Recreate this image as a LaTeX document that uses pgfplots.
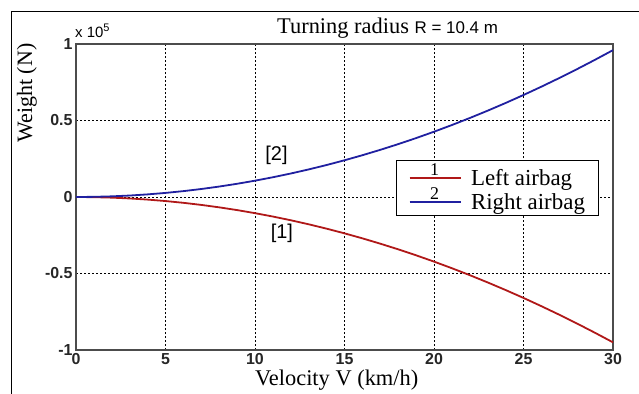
\documentclass[border=0pt]{standalone}
\usepackage{pgfplots}
\pgfplotsset{compat=1.18}
\usepackage{fontspec}
\setmainfont{Liberation Serif}
\newfontfamily\arial{Liberation Sans}
\definecolor{myred}{HTML}{B01818}
\definecolor{myblue}{HTML}{2020A0}
\pgfplotsset{
  legone/.style={legend image code/.code={\draw[myred, line width=2bp] (0bp,0bp) -- (51bp,0bp);
    \node[black, above, inner sep=0.3bp, font=\fontsize{18}{18}\selectfont] at (25bp,0bp) {1};}},
  legtwo/.style={legend image code/.code={\draw[myblue, line width=2bp] (0bp,0bp) -- (51bp,0bp);
    \node[black, above, inner sep=0.3bp, font=\fontsize{18}{18}\selectfont] at (25bp,0bp) {2};}},
}
\begin{document}
\begin{tikzpicture}
\useasboundingbox (0,0) rectangle (639bp,-394bp);
\draw[line width=1bp] (11bp,-394bp) -- (11bp,-11bp) -- (639bp,-11bp);
\begin{axis}[at={(76bp,-350bp)}, anchor=south west, scale only axis,
  width=537bp, height=306bp,
  xmin=0, xmax=30, ymin=-1, ymax=1,
  xtick={0,5,...,30}, ytick={-1,-0.5,0,0.5,1},
  grid=major,
  grid style={black, line width=1bp, dash pattern=on 2.2bp off 1.8bp},
  axis line style={draw=black!70, line width=1.5bp},
  major tick length=0pt,
  /pgf/number format/assume math mode=true,
  tick label style={font=\arial\bfseries\fontsize{16}{16}\selectfont, text=black!85},
  legend style={at={(0.596,0.621)}, anchor=north west, draw=black, line width=1bp,
    font=\fontsize{23}{23}\selectfont, inner xsep=12bp, inner ysep=3bp, row sep=-1.5bp, column sep=8bp,
    nodes={inner sep=1.5bp}, cells={anchor=west}},
  legend cell align=left,
]
\addplot[myred, line width=1.8bp, legone]
coordinates {(0,0) (1,-0.0011) (2,-0.0042) (3,-0.0095) (4,-0.0169) (5,-0.0264) (6,-0.038) (7,-0.0517) (8,-0.0676) (9,-0.0855) (10,-0.1056) (11,-0.1277) (12,-0.152) (13,-0.1784) (14,-0.2069) (15,-0.2375) (16,-0.2702) (17,-0.3051) (18,-0.342) (19,-0.3811) (20,-0.4222) (21,-0.4655) (22,-0.5109) (23,-0.5584) (24,-0.608) (25,-0.6597) (26,-0.7136) (27,-0.7695) (28,-0.8276) (29,-0.8878) (30,-0.95)};
\addlegendentry{Left airbag}
\addplot[myblue, line width=1.8bp, legtwo]
coordinates {(0,0) (1,0.0011) (2,0.0043) (3,0.0096) (4,0.0171) (5,0.0267) (6,0.0384) (7,0.0523) (8,0.0683) (9,0.0864) (10,0.1067) (11,0.1291) (12,0.1536) (13,0.1803) (14,0.2091) (15,0.24) (16,0.2731) (17,0.3083) (18,0.3456) (19,0.3851) (20,0.4267) (21,0.4704) (22,0.5163) (23,0.5643) (24,0.6144) (25,0.6667) (26,0.7211) (27,0.7776) (28,0.8363) (29,0.8971) (30,0.96)};
\addlegendentry{Right airbag}
\node[font=\arial\fontsize{20}{20}\selectfont] at (axis cs:11.2,0.27) {[2]};
\node[font=\arial\fontsize{20}{20}\selectfont] at (axis cs:11.5,-0.24) {[1]};
\end{axis}
\node[anchor=base west, font=\fontsize{22.5}{22.5}\selectfont, inner sep=0] at (277bp,-33bp)
  {Turning radius {\arial\fontsize{17}{17}\selectfont R = 10.4 m}};
\node[anchor=base west, font=\arial\fontsize{15}{15}\selectfont, inner sep=0] at (75bp,-37bp)
  {x 10\raisebox{6bp}{\fontsize{11}{11}\selectfont 5}};
\node[rotate=90, font=\fontsize{22}{22}\selectfont, inner sep=0] at (27bp,-93bp) {Weight (N)};
\node[anchor=base west, font=\fontsize{22.5}{22.5}\selectfont, inner sep=0] at (255bp,-385bp) {Velocity V (km/h)};
\end{tikzpicture}
\end{document}
